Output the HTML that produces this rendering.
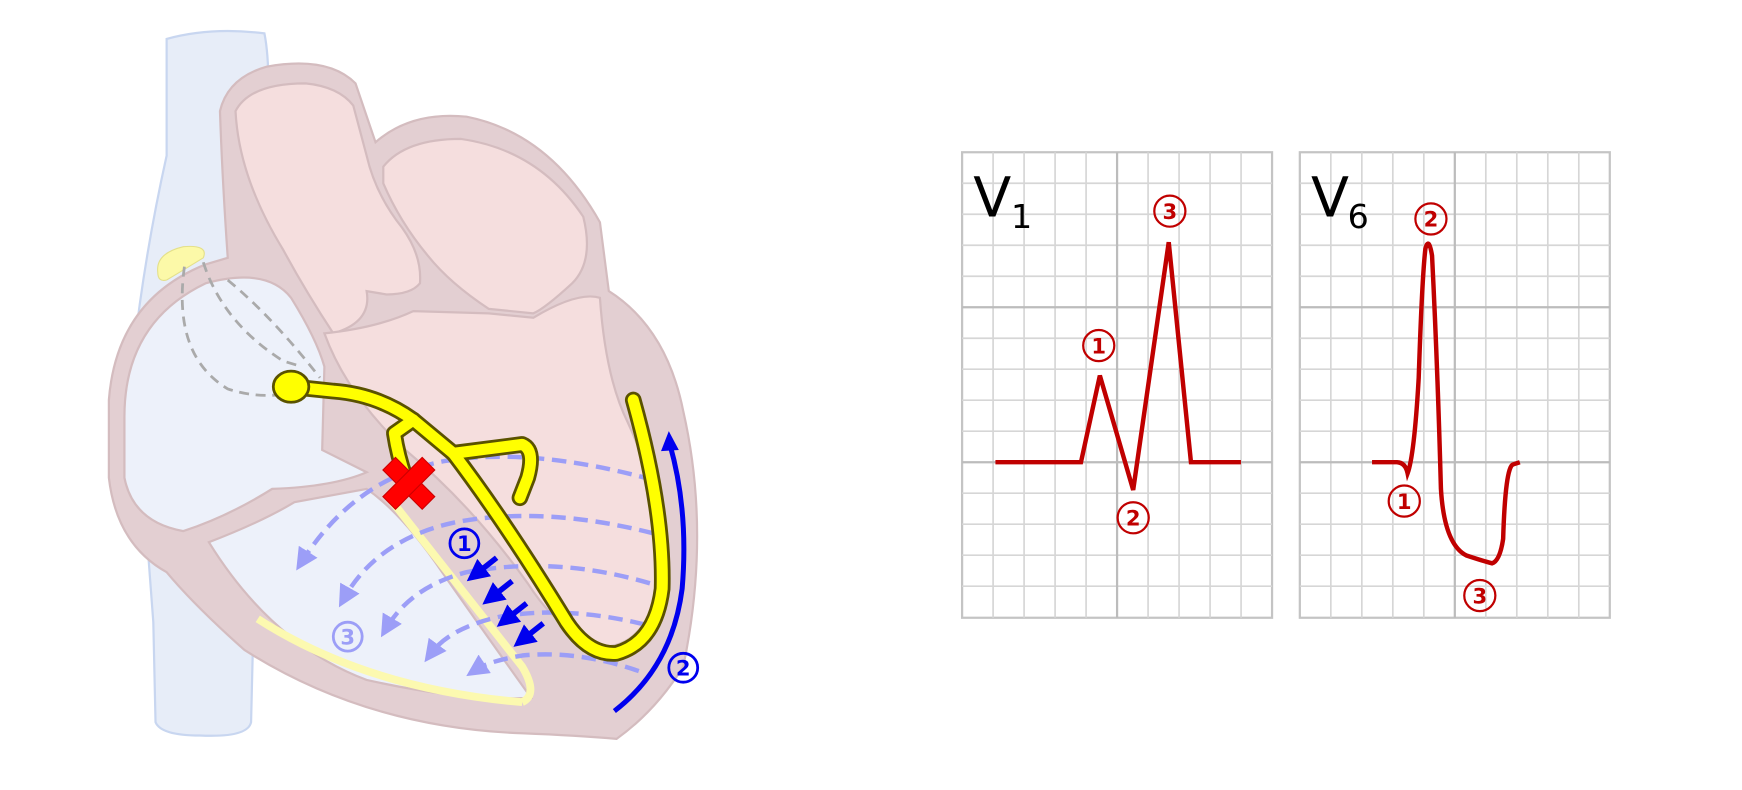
<!DOCTYPE html>
<html><head><meta charset="utf-8"><style>
html,body{margin:0;padding:0;background:#fff;}
svg{display:block;}
text{font-family:"DejaVu Sans","Liberation Sans",sans-serif;}
</style></head><body>
<svg width="1742" height="790" viewBox="0 0 1568 711" xmlns="http://www.w3.org/2000/svg">
<defs>
<marker id="la" markerWidth="5" markerHeight="5" refX="2.5" refY="2.5" orient="auto" markerUnits="strokeWidth">
<path d="M0,0 L5,2.5 L0,5 Z" fill="#9c9ef7"/></marker>
<marker id="ba" markerWidth="4" markerHeight="4" refX="2" refY="2" orient="auto" markerUnits="strokeWidth">
<path d="M0,0 L4,2 L0,4 Z" fill="#0000ee"/></marker>
</defs>
<path d="M150,35 Q190,24 238,30 Q244,60 240,120 L236,230 L226,650 Q223,664 180,662 Q145,662 140,650 L138,560 L120,320 Q130,230 150,140 Z" fill="#e7edf8" stroke="#c8d6f0" stroke-width="2"/>
<path d="M98,360 Q105,270 185,238 L205,232 Q200,160 198,100 Q205,70 240,60 Q295,50 320,75 L338,128 Q370,100 420,105 Q495,120 540,200 L548,262 Q600,295 615,370 Q640,480 615,600 Q590,640 555,665 Q520,662 470,660 Q330,655 220,585 Q175,545 150,515 Q105,490 98,430 Z" fill="#e3cfd2" stroke="#d4bcbf" stroke-width="2"/>
<path d="M212,100 Q225,75 275,75 Q305,78 318,95 L330,140 Q338,175 362,205 Q380,230 378,255 Q370,265 348,265 L330,262 Q335,290 300,300 Q275,262 255,225 Q215,160 212,100 Z" fill="#f5dede" stroke="#d4bcbf" stroke-width="2"/>
<path d="M345,150 Q365,125 415,125 Q485,135 525,195 Q535,235 515,255 Q490,278 480,282 L440,278 Q405,255 385,230 Q360,200 345,165 Z" fill="#f5dede" stroke="#d4bcbf" stroke-width="2"/>
<path d="M292,300 Q340,295 372,280 L440,282 L480,286 Q520,262 540,268 Q545,340 565,380 Q598,450 592,530 Q580,580 545,582 Q505,572 475,525 Q425,455 365,405 Q312,355 292,300 Z" fill="#f5dede" stroke="#d4bcbf" stroke-width="2"/>
<path d="M112,375 Q112,290 185,255 Q240,240 262,268 Q285,305 292,330 L290,405 L330,425 Q300,438 245,440 Q205,465 165,478 Q120,470 112,430 Z" fill="#edf1fa" stroke="#d4bcbf" stroke-width="2"/>
<path d="M188,488 Q235,470 265,452 L330,440 Q362,462 398,515 Q440,575 478,628 Q420,632 330,612 Q245,580 188,488 Z" fill="#edf1fa" stroke="#d4bcbf" stroke-width="2"/>
<path d="M348,445 L470,600 Q485,625 470,632" fill="none" stroke="#fcf9b0" stroke-width="7"/>
<path d="M232,557 Q330,620 470,632" fill="none" stroke="#fcf9b0" stroke-width="7"/>
<path d="M142,245 Q140,228 165,222 Q188,220 183,232 Q170,240 150,252 Q142,254 142,245 Z" fill="#fcf9a8" stroke="#e4e08a" stroke-width="1"/>
<g fill="none" stroke="#aaa" stroke-width="2.5" stroke-dasharray="9 6">
<path d="M166,240 Q155,320 205,350 Q235,360 265,353"/>
<path d="M183,236 Q200,290 255,325 L272,330"/>
<path d="M205,252 Q245,285 288,340"/>
</g>
<g fill="none" stroke="#9c9ef7" stroke-width="4" stroke-dasharray="13 7" marker-end="url(#la)">
<path d="M588,432 Q480,402 400,415 Q320,430 272,505"/>
<path d="M588,480 Q490,455 410,470 Q340,485 310,538"/>
<path d="M585,525 Q500,500 420,515 Q370,528 348,565"/>
<path d="M580,562 Q510,545 450,555 Q405,565 388,588"/>
<path d="M575,604 Q520,585 470,590 Q440,595 428,603"/>
</g>
<g fill="none" stroke-linecap="round" stroke-linejoin="round">
<g stroke="#5a5200" stroke-width="15">
<path d="M262,348 L300,352 Q340,355 372,378 L408,408 L470,400 Q482,405 475,430 L468,448"/>
<path d="M372,378 L355,390 Q358,410 365,430"/>
<path d="M408,408 Q455,470 510,560 Q530,590 555,588 Q590,578 596,530 Q598,460 570,360"/>
</g>
<g stroke="#ffff00" stroke-width="10">
<path d="M262,348 L300,352 Q340,355 372,378 L408,408 L470,400 Q482,405 475,430 L468,448"/>
<path d="M372,378 L355,390 Q358,410 365,430"/>
<path d="M408,408 Q455,470 510,560 Q530,590 555,588 Q590,578 596,530 Q598,460 570,360"/>
</g>
</g>
<ellipse cx="262" cy="348" rx="16" ry="14" fill="#ffff00" stroke="#5a5200" stroke-width="2.5"/>
<g transform="translate(368,435) rotate(45)">
<rect x="-25" y="-8" width="50" height="16" fill="#f00" stroke="#c00" stroke-width="1"/>
<rect x="-8" y="-25" width="16" height="50" fill="#f00" stroke="#c00" stroke-width="1"/>
</g>
<g stroke="#0000ee" stroke-width="5" marker-end="url(#ba)">
<line x1="447" y1="502" x2="428" y2="517"/>
<line x1="461" y1="523" x2="442" y2="538"/>
<line x1="474" y1="543" x2="455" y2="558"/>
<line x1="489" y1="561" x2="470" y2="576"/>
</g>
<path d="M553,640 Q605,600 614,530 Q620,460 603,400" fill="none" stroke="#0000ee" stroke-width="4.5"/>
<path d="M595,406 L602,388 L611,405 Z" fill="#0000ee"/>
<g font-weight="bold" font-size="19" text-anchor="middle">
<circle cx="418" cy="489" r="13" fill="none" stroke="#0000ee" stroke-width="2.5"/><text x="418" y="496" fill="#0000ee">1</text>
<circle cx="615" cy="601" r="13" fill="none" stroke="#0000ee" stroke-width="2.5"/><text x="615" y="608" fill="#0000ee">2</text>
<circle cx="313" cy="573" r="13" fill="none" stroke="#9c9ef7" stroke-width="2.5"/><text x="313" y="580" fill="#9c9ef7">3</text>
</g>
<g>
<rect x="866" y="137" width="279" height="419" fill="#fff" stroke="#c4c4c4" stroke-width="2"/>
<g stroke="#d6d6d6" stroke-width="1.5">
<path d="M893.9,137V556M921.8,137V556M949.7,137V556M977.6,137V556M1033.4,137V556M1061.3,137V556M1089.2,137V556M1117.1,137V556"/>
<path d="M866,164.9H1145M866,192.8H1145M866,220.7H1145M866,248.6H1145M866,304.4H1145M866,332.3H1145M866,360.2H1145M866,388.1H1145M866,443.9H1145M866,471.8H1145M866,499.7H1145M866,527.6H1145"/>
</g>
<g stroke="#bcbcbc" stroke-width="2"><path d="M1005.5,137V556M866,276.5H1145M866,416H1145"/></g>
</g>
<g transform="translate(304,0)">
<rect x="866" y="137" width="279" height="419" fill="#fff" stroke="#c4c4c4" stroke-width="2"/>
<g stroke="#d6d6d6" stroke-width="1.5">
<path d="M893.9,137V556M921.8,137V556M949.7,137V556M977.6,137V556M1033.4,137V556M1061.3,137V556M1089.2,137V556M1117.1,137V556"/>
<path d="M866,164.9H1145M866,192.8H1145M866,220.7H1145M866,248.6H1145M866,304.4H1145M866,332.3H1145M866,360.2H1145M866,388.1H1145M866,443.9H1145M866,471.8H1145M866,499.7H1145M866,527.6H1145"/>
</g>
<g stroke="#bcbcbc" stroke-width="2"><path d="M1005.5,137V556M866,276.5H1145M866,416H1145"/></g>
</g>
<text x="876" y="195" font-size="50" fill="#000">V</text><text x="910" y="205" font-size="30" fill="#000">1</text>
<text x="1180" y="195" font-size="50" fill="#000">V</text><text x="1213" y="205" font-size="30" fill="#000">6</text>
<g fill="none" stroke="#c00000" stroke-width="4" stroke-linejoin="miter">
<path d="M896,416 L973,416 L990,338 L1020,441 L1052,218 L1072,416 L1117,416"/>
<path d="M1235,416 L1257,416 Q1265,416 1267,426 Q1273,410 1277,340 Q1280,250 1283,224 Q1286,212 1289,230 Q1294,330 1297,440 Q1300,490 1320,500 Q1335,505 1343,507 Q1350,505 1353,485 Q1355,420 1362,418 L1368,416"/>
</g>
<g font-weight="bold" font-size="19" text-anchor="middle" fill="#c00000">
<circle cx="989" cy="311" r="14" fill="none" stroke="#c00000" stroke-width="2"/><text x="989" y="318">1</text>
<circle cx="1020" cy="466" r="14" fill="none" stroke="#c00000" stroke-width="2"/><text x="1020" y="473">2</text>
<circle cx="1053" cy="190" r="14" fill="none" stroke="#c00000" stroke-width="2"/><text x="1053" y="197">3</text>
<circle cx="1288" cy="197" r="14" fill="none" stroke="#c00000" stroke-width="2"/><text x="1288" y="204">2</text>
<circle cx="1264" cy="451" r="14" fill="none" stroke="#c00000" stroke-width="2"/><text x="1264" y="458">1</text>
<circle cx="1332" cy="536" r="14" fill="none" stroke="#c00000" stroke-width="2"/><text x="1332" y="543">3</text>
</g>
</svg>
</body></html>
